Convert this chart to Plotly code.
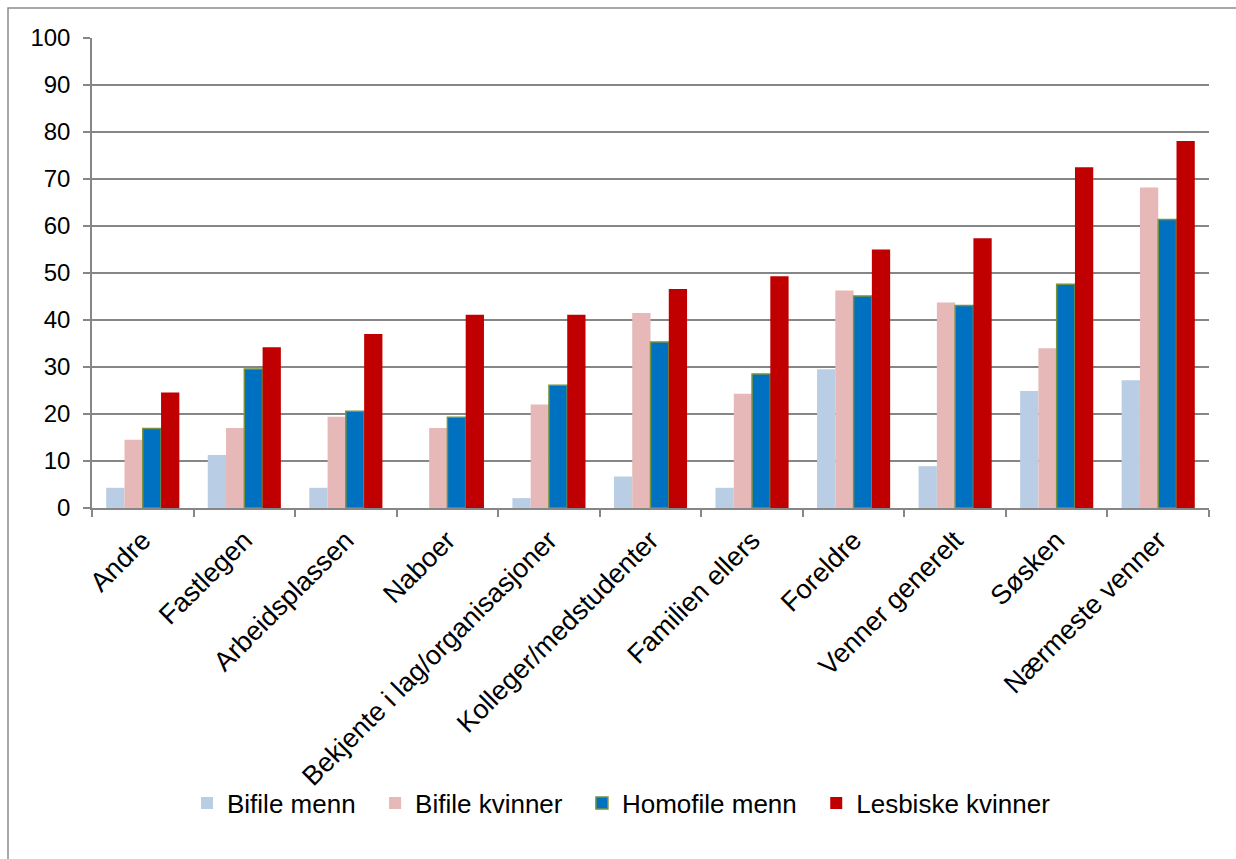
import plotly.graph_objects as go

categories = ["Andre", "Fastlegen", "Arbeidsplassen", "Naboer",
              "Bekjente i lag/organisasjoner", "Kolleger/medstudenter",
              "Familien ellers", "Foreldre", "Venner generelt", "Søsken",
              "Nærmeste venner"]

series_names = ["Bifile menn", "Bifile kvinner", "Homofile menn", "Lesbiske kvinner"]
bifile_menn = [4.3, 11.3, 4.3, 0, 2.1, 6.7, 4.3, 29.5, 8.9, 24.9, 27.2]
bifile_kvinner = [14.5, 17.0, 19.4, 17.0, 22.0, 41.5, 24.3, 46.3, 43.7, 34.0, 68.2]
homofile_menn = [16.9, 29.6, 20.6, 19.3, 26.1, 35.3, 28.5, 45.1, 43.1, 47.6, 61.4]
lesbiske_kvinner = [24.6, 34.2, 37.0, 41.1, 41.1, 46.6, 49.3, 55.0, 57.4, 72.5, 78.1]

values = [bifile_menn, bifile_kvinner, homofile_menn, lesbiske_kvinner]
colors = ["#B9CDE5", "#E6B9B8", "#0070C0", "#C00000"]
outlines = [None, None, "#77933C", None]

fig = go.Figure()
for name, vals, col, lcol in zip(series_names, values, colors, outlines):
    fig.add_trace(go.Bar(
        x=categories, y=vals, name=name + "\u00a0\u00a0",
        marker=dict(color=col,
                    line=dict(color=lcol if lcol else col, width=1.5 if lcol else 0)),
    ))

W, H = 1236, 859
L, R, T, B = 92, 27, 38, 351
pw, ph = W - L - R, H - T - B

fig.update_layout(
    width=W, height=H,
    margin=dict(l=L, r=R, t=T, b=B),
    paper_bgcolor="white", plot_bgcolor="white",
    barmode="group", bargap=0.28, bargroupgap=0,
    font=dict(family="Liberation Sans, Arial, sans-serif", size=24, color="black"),
    showlegend=True,
    legend=dict(orientation="h", x=(187 - L) / pw, xanchor="left",
                y=(H - B - 803) / ph, yanchor="middle",
                bgcolor="rgba(0,0,0,0)",
                font=dict(size=26), itemwidth=30, traceorder="normal"),
    xaxis=dict(showline=True, linecolor="#868686", linewidth=1.5,
               ticks="outside", tickson="boundaries", ticklen=7,
               tickcolor="#868686", tickwidth=1.5,
               tickangle=-45, showgrid=False, tickfont=dict(size=27),
               ticklabelstandoff=4),
    yaxis=dict(range=[0, 100], dtick=10, showline=True, linecolor="#868686",
               linewidth=1.5, ticks="outside", ticklen=7, tickcolor="#868686",
               tickwidth=1.5, showgrid=True, gridcolor="#868686", gridwidth=1.5,
               zeroline=False, tickfont=dict(size=24), ticklabelstandoff=8),
    shapes=[dict(type="rect", xref="paper", yref="paper",
                 x0=(8 - L) / pw, x1=1.2, y0=-1.2, y1=(H - B - 8) / ph,
                 line=dict(color="#8c8c8c", width=1.5), fillcolor="rgba(0,0,0,0)",
                 layer="below")],
)

fig.write_html("out.html")
